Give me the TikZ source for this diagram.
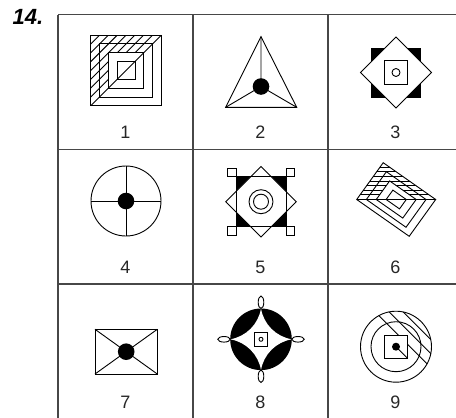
\documentclass[tikz,border=0pt]{standalone}
\usepackage{fontspec}
\setmainfont{Liberation Sans}
\usetikzlibrary{positioning}

% nested squares with a diagonal, hatched in the upper-left half
\newcommand{\nestsquare}{%
  \begin{scope}
    \clip (-1,-1) -- (-1,1) -- (1,1) -- (0.505,0.505) -- (-0.505,0.505) -- (-0.505,-0.505) -- cycle;
    \foreach \k in {1,...,7}
      \draw[figline] (-1,-1+0.25*\k) -- ++(2,2);
  \end{scope}
  \foreach \sz in {1,0.755,0.505,0.255}
    \draw[figline] (-\sz,-\sz) -- (\sz,-\sz) -- (\sz,\sz) -- (-\sz,\sz) -- cycle;
  \draw[figline] (-1,-1) -- (1,1);
}

\begin{document}
\begin{tikzpicture}[x=1pt, y=-1pt,
    gridline/.style={draw=black!72, line width=1.3pt},
    figline/.style={draw=black, line width=0.9pt},
    blackdot/.style={fill=black},
    num/.style={font=\fontsize{18}{18}\selectfont, text=black!85},
    title/.style={font=\fontsize{22}{22}\selectfont\bfseries\itshape}
  ]
  \useasboundingbox (0,0) rectangle (456,418);
  \clip (0,0) rectangle (456,418);

  \node[title] (qno) at (28,17) {14.};

  % Raster
  \foreach \gx in {58,193,328,463}
    \draw[gridline] (\gx,14.5) -- (\gx,419.5);
  \foreach \gy in {14.5,149.3,284,419}
    \draw[gridline] (58,\gy) -- (463,\gy);

  % Nummern
  \node[num] (n1) at (125.5,132.5) {1};
  \node[num] (n2) at (260.5,132.5) {2};
  \node[num] (n3) at (395.5,132.5) {3};
  \node[num] (n4) at (125.5,267) {4};
  \node[num] (n5) at (260.5,267) {5};
  \node[num] (n6) at (395.5,267) {6};
  \node[num] (n7) at (125.5,402) {7};
  \node[num] (n8) at (260.5,402) {8};
  \node[num] (n9) at (395.5,402) {9};

  % Figur 1
  \begin{scope}[shift={(126,70.5)}, x={(35.3pt,0pt)}, y={(0pt,35.3pt)}]
    \nestsquare
  \end{scope}

  % Figur 2
  \coordinate (t2a) at (261,36.7);
  \coordinate (t2b) at (225.7,107.3);
  \coordinate (t2c) at (296.7,107.3);
  \coordinate (d2) at (261,86.5);
  \draw[figline, line join=miter] (t2a) -- (t2b) -- (t2c) -- cycle;
  \draw[figline] (t2a) -- (d2) (t2b) -- (d2) (t2c) -- (d2);
  \fill[blackdot] (d2) circle[radius=8.3pt];

  % Figur 3
  \begin{scope}[shift={(396,72.5)}]
    \fill[black] (-25pt,-25pt) rectangle (25pt,25pt);
    \draw[figline, fill=white] (0pt,35.5pt) -- (35.5pt,0pt) -- (0pt,-35.5pt) -- (-35.5pt,0pt) -- cycle;
    \draw[figline] (-11.7pt,-11.7pt) rectangle (11.7pt,11.7pt);
    \draw[figline] (0,0) circle[radius=4pt];
  \end{scope}

  % Figur 4
  \begin{scope}[shift={(126,201)}]
    \draw[figline] (0,0) circle[radius=35pt];
    \draw[figline] (-35pt,0pt) -- (35pt,0pt) (0pt,-35pt) -- (0pt,35pt);
    \fill[blackdot] (0,0) circle[radius=8.3pt];
  \end{scope}

  % Figur 5
  \begin{scope}[shift={(261,201.7)}]
    \fill[black] (-25pt,-25pt) rectangle (25pt,25pt);
    \draw[figline, fill=white] (0pt,35.3pt) -- (35.3pt,0pt) -- (0pt,-35.3pt) -- (-35.3pt,0pt) -- cycle;
    \draw[figline] (-25pt,-25pt) rectangle (25pt,25pt);
    \draw[figline] (25pt,25pt) rectangle ++(8.3pt,8.3pt);
    \draw[figline] (-25pt,25pt) rectangle ++(-8.3pt,8.3pt);
    \draw[figline] (25pt,-25pt) rectangle ++(8.3pt,-8.3pt);
    \draw[figline] (-25pt,-25pt) rectangle ++(-8.3pt,-8.3pt);
    \draw[figline] (0,0) circle[radius=12pt];
    \draw[figline] (0,0) circle[radius=7.5pt];
  \end{scope}

  % Figur 6
  \begin{scope}[shift={(396.2,199.5)}, x={(26.25pt,-18.4pt)}, y={(13.25pt,18.4pt)}]
    \nestsquare
  \end{scope}

  % Figur 7
  \coordinate (r7a) at (95,329.3);
  \coordinate (r7b) at (157.3,374);
  \draw[figline] (r7a) rectangle (r7b);
  \draw[figline] (r7a) -- (r7b) (95,374) -- (157.3,329.3);
  \fill[blackdot] (126.2,351.7) circle[radius=8.3pt];

  % Figur 8
  \begin{scope}[shift={(261,339.3)}]
    \fill[black] (0,0) circle[radius=30.8pt];
    \fill[white] (0pt,30.8pt)
      arc[start angle=189.46, end angle=260.54, radius=37.47pt]
      arc[start angle=99.46, end angle=170.54, radius=37.47pt]
      arc[start angle=9.46, end angle=80.54, radius=37.47pt]
      arc[start angle=279.46, end angle=350.54, radius=37.47pt] -- cycle;
    \draw[figline, fill=white] (0pt,37pt) ellipse[x radius=2.8pt, y radius=6.2pt];
    \draw[figline, fill=white] (0pt,-37pt) ellipse[x radius=2.8pt, y radius=6.2pt];
    \draw[figline, fill=white] (37pt,0pt) ellipse[x radius=6.2pt, y radius=2.8pt];
    \draw[figline, fill=white] (-37pt,0pt) ellipse[x radius=6.2pt, y radius=2.8pt];
    \draw[figline] (-6.7pt,-6.7pt) rectangle (6.7pt,6.7pt);
    \draw[figline] (0,0) circle[radius=2pt];
  \end{scope}

  % Figur 9
  \begin{scope}[shift={(396,346.7)}]
    \begin{scope}
      \clip (25.1pt,-25.1pt) arc[start angle=-45, end angle=135, radius=35.5pt]
        -- (-11.7pt,11.7pt) -- (11.7pt,11.7pt) -- (11.7pt,-11.7pt) -- cycle;
      \foreach \k in {1,...,7}
        \draw[figline] (-40pt+7*\k pt,40pt+7*\k pt) -- ++(80pt,-80pt);
    \end{scope}
    \draw[figline] (0,0) circle[radius=35.5pt];
    \draw[figline] (0,0) circle[radius=25pt];
    \draw[figline] (-11.7pt,-11.7pt) rectangle (11.7pt,11.7pt);
    \draw[figline] (0,0) -- (11.7pt,-11.7pt);
    \fill[blackdot] (0,0) circle[radius=4pt];
  \end{scope}
\end{tikzpicture}
\end{document}
